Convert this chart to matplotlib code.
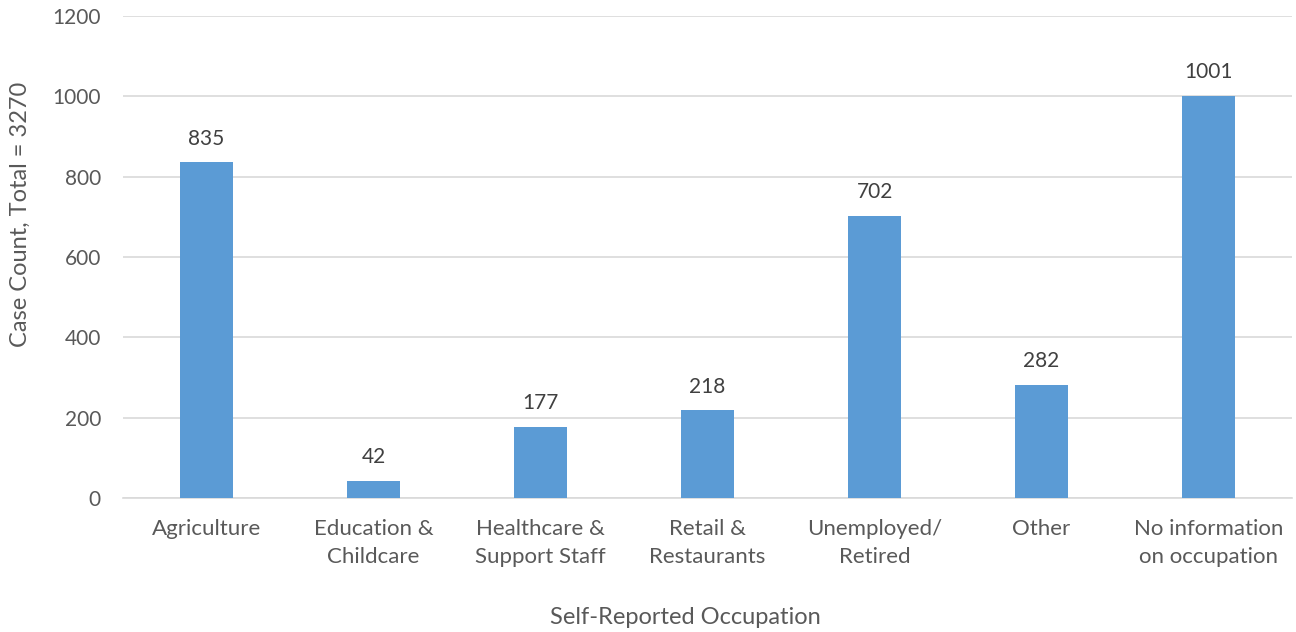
import matplotlib.pyplot as plt

categories = ['Agriculture', 'Education &\nChildcare', 'Healthcare &\nSupport Staff',
              'Retail &\nRestaurants', 'Unemployed/\nRetired', 'Other',
              'No information\non occupation']
case_counts = [835, 42, 177, 218, 702, 282, 1001]
y_ticks = [0, 200, 400, 600, 800, 1000, 1200]

plt.rcParams['font.family'] = ['Lato', 'DejaVu Sans']

fig = plt.figure(figsize=(12.96, 6.32), dpi=100)
ax = fig.add_axes([0.095, 0.212, 0.902, 0.763])

x = range(len(categories))
bars = ax.bar(x, case_counts, width=0.32, color='#5B9BD5', zorder=3)
ax.bar_label(bars, padding=10, fontsize=15, color='#404040')

ax.set_xlim(-0.5, len(categories) - 0.5)
ax.set_ylim(0, 1200)
ax.set_yticks(y_ticks)
ax.set_xticks(list(x), categories, linespacing=1.5)
ax.tick_params(axis='both', length=0, labelsize=16, labelcolor='#595959')
ax.tick_params(axis='y', labelsize=15, pad=16)
ax.tick_params(axis='x', pad=15)

ax.grid(axis='y', color='#D9D9D9', linewidth=1.2, zorder=0)
for side in ['top', 'right', 'left']:
    ax.spines[side].set_visible(False)
ax.spines['bottom'].set_color('#D9D9D9')
ax.spines['bottom'].set_linewidth(1.2)

ax.set_xlabel('Self-Reported Occupation', fontsize=17, color='#595959', va='center')
ax.xaxis.set_label_coords(0.481, -0.247)
ax.set_ylabel('Case Count, Total = 3270', fontsize=17, color='#595959', va='center')
ax.yaxis.set_label_coords(-0.088, 0.589)

fig.savefig('out.png', dpi=100)
